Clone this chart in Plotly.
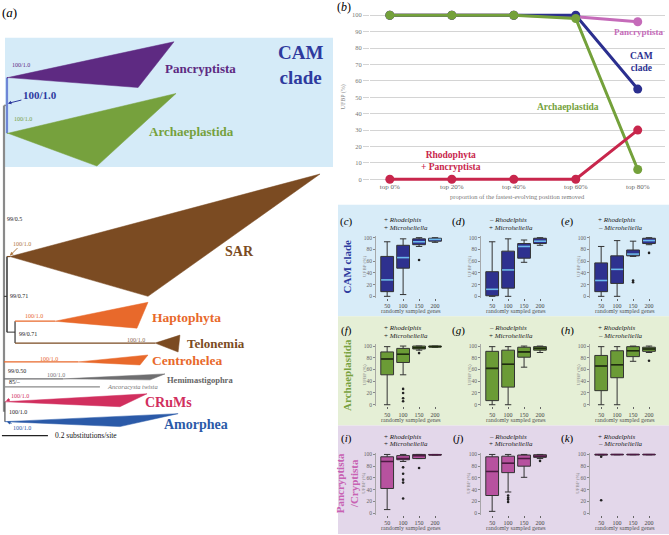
import plotly.graph_objects as go

W, H = 669, 535
SERIF = "Liberation Serif"

# ---------------- data: panel (b) ----------------
removed = ['top 0%', 'top 20%', 'top 40%', 'top 60%', 'top 80%']
ufbp_pancryptista = [100, 100, 100, 99, 96]
ufbp_cam = [100, 100, 100, 100, 55]
ufbp_archaeplastida = [100, 100, 100, 98, 6]
ufbp_rhodo_pancry = [0, 0, 0, 0, 30]

# ---------------- data: box plots (c)-(k) ----------------
genes = [50, 100, 150, 200]
# lower whisker, q1, median, q3, upper whisker per gene-set size
c_lo = [0, 3, 85, 92];   c_q1 = [8, 48, 88, 94];   c_med = [28, 66, 93, 97];  c_q3 = [68, 87, 98, 99];  c_hi = [93, 98, 100, 100]
c_out_x = [150];         c_out_y = [62]
d_lo = [0, 0, 58, 87];   d_q1 = [1, 14, 65, 90];   d_med = [12, 45, 85, 94];  d_q3 = [42, 77, 90, 99];  d_hi = [93, 98, 96, 100]
d_out_x = [];            d_out_y = []
e_lo = [0, 0, 68, 88];   e_q1 = [8, 22, 69, 90];   e_med = [27, 46, 72, 95];  e_q3 = [57, 69, 79, 99];  e_hi = [85, 95, 94, 100]
e_out_x = [150, 150, 200]; e_out_y = [27, 24, 74]
f_lo = [0, 51, 93, 98];  f_q1 = [51, 72, 95, 98.5]; f_med = [78, 86, 97, 99]; f_q3 = [90, 96, 100, 100]; f_hi = [99, 100, 100, 100]
f_out_x = [100, 100, 100, 100, 150]; f_out_y = [27, 20, 11, 6, 88]
g_lo = [0, 0, 64, 89];   g_q1 = [7, 30, 81, 93];   g_med = [62, 69, 90, 96];  g_q3 = [91, 93, 98, 99];  g_hi = [99, 99, 100, 100]
g_out_x = [];            g_out_y = []
h_lo = [0, 0, 74, 89];   h_q1 = [24, 46, 82, 91];  h_med = [66, 68, 92, 95];  h_q3 = [84, 92, 99, 98];  h_hi = [99, 99, 100, 100]
h_out_x = [200];         h_out_y = [75]
i_lo = [6, 88, 93, 99];  i_q1 = [42, 91, 93, 99];  i_med = [88, 93, 98, 99.5]; i_q3 = [96, 98, 100, 100]; i_hi = [100, 100, 100, 100]
i_out_x = [100, 100, 100, 100, 100, 150]; i_out_y = [78, 67, 57, 52, 25, 77]
j_lo = [3, 36, 61, 93];  j_q1 = [30, 69, 80, 95];  j_med = [71, 85, 93, 97];  j_q3 = [96, 97, 99, 99.5]; j_hi = [100, 100, 100, 100]
j_out_x = [100, 100, 100, 100, 200]; j_out_y = [30, 26, 23, 19, 89]
k_lo = [99, 100, 100, 100]; k_q1 = [99, 99.4, 99.4, 99.4]; k_med = [100, 100, 100, 100]; k_q3 = [100, 100, 100, 100]; k_hi = [100, 100, 100, 100]
k_out_x = [50, 50];      k_out_y = [96, 22]

panel_letters = ['c', 'd', 'e', 'f', 'g', 'h', 'i', 'j', 'k']
panel_titles = [('+ ', 'Rhodelphis', '+ ', 'Microheliella'), ('– ', 'Rhodelphis', '+ ', 'Microheliella'),
                ('+ ', 'Rhodelphis', '– ', 'Microheliella')] * 3
row_names = ['CAM clade', 'Archaeplastida', 'Pancryptista<br>/Cryptista']

# ---------------- data: tree (a) (depth in substitutions/site, vertical in leaf rows) ----------------
clade_names = ['Pancryptista', 'Archaeplastida', 'SAR', 'Haptophyta', 'Telonemia', 'Centrohelea',
               'Hemimastigophra', 'CRuMs', 'Amorphea']
clade_stem_from = [0.013, 0.013, 0.013, 0.048, 0.048, 0.0, 0.0, 0.004, 0.004]
clade_apex_depth = [0.017, 0.017, 0.026, 0.222, 0.657, 0.322, 0.257, 0.004, 0.004]
clade_apex_row = [77, 133, 257, 322, 344, 363, 380, 403, 423]
clade_top_depth = [0.739, 0.748, 1.374, 0.626, 0.765, 0.626, 0.700, 0.622, 0.757]
clade_top_row = [41, 93, 174, 303, 336, 356, 375, 395, 415]
clade_bot_depth = [0.583, 0.404, 0.626, 0.578, 0.757, 0.591, 0.635, 0.504, 0.504]
clade_bot_row = [87, 166, 297, 329, 353, 366, 381, 408, 428]
ancoracysta_depth = 0.417
ancoracysta_row = 388

# ---------------- helpers ----------------
def fx(p):
    return p / W

def fy(p):
    return 1 - p / H

fig = go.Figure()
annotations = []
shapes = []
layout_axes = {}

def ann(text, x, y, size, color='#000', xanchor='center', yanchor='middle', angle=0,
        xref='paper', yref='paper'):
    if xref == 'paper':
        x = fx(x)
    if yref == 'paper':
        y = fy(y)
    annotations.append(dict(text=text, x=x, y=y, xref=xref, yref=yref, showarrow=False,
                            font=dict(family=SERIF, size=size, color=color),
                            xanchor=xanchor, yanchor=yanchor, textangle=angle))

def rect(x0, y0, x1, y1, color):
    shapes.append(dict(type='rect', xref='paper', yref='paper', x0=fx(x0), x1=fx(x1),
                       y0=fy(y1), y1=fy(y0), fillcolor=color, line=dict(width=0), layer='below'))

# backgrounds
rect(5, 37, 333, 167, '#d5ebf8')
rect(338, 205, 669, 317, '#d8ecf8')
rect(338, 317, 669, 427, '#e5efd6')
rect(338, 427, 669, 536, '#e3d7ea')

# ---------------- panel (b) ----------------
b_colors = ['#c56bb9', '#2b2f8f', '#74a13b', '#c8264c']
for vals, col in zip([ufbp_pancryptista, ufbp_cam, ufbp_archaeplastida, ufbp_rhodo_pancry], b_colors):
    fig.add_trace(go.Scatter(x=removed, y=vals, mode='lines+markers', cliponaxis=False,
                             line=dict(color=col, width=3), marker=dict(color=col, size=9),
                             xaxis='x', yaxis='y', hoverinfo='skip'))
b_y100, b_y0 = 14.3, 179.3
b_unit = (b_y0 - b_y100) / 100
layout_axes['xaxis'] = dict(domain=[fx(370), fx(665)], range=[-0.32, 4.44], type='category',
                            showgrid=False, zeroline=False, showline=False, ticks='',
                            tickfont=dict(family=SERIF, size=7, color='#666'), anchor='y')
layout_axes['yaxis'] = dict(domain=[fy(b_y0 + 1 * b_unit), fy(b_y100 - 3 * b_unit)], range=[-1, 103],
                            tickvals=list(range(0, 101, 10)), showgrid=True, gridcolor='#d4d4d4',
                            gridwidth=1, zeroline=False, showline=False, ticks='outside', ticklen=6,
                            tickcolor='#d4d4d4', tickfont=dict(family=SERIF, size=6.5, color='#777'),
                            anchor='x')
ann('(<i>b</i>)', 344, 6, 12)
ann('UFBP (%)', 343, 97, 6, '#888', angle=-90)
ann('proportion of the fastest-evolving position removed', 517, 197, 6.5, '#777')
ann('<b>Pancryptista</b>', 638, 31, 9, '#c56bb9')
ann('<b>CAM<br>clade</b>', 641, 61, 9.5, '#2b2f8f')
ann('<b>Archaeplastida</b>', 568, 107, 9.5, '#74a13b')
ann('<b>Rhodophyta<br>+ Pancryptista</b>', 451, 161, 9.5, '#c8264c')

# ---------------- box panels ----------------
stats = {
    'c': (c_lo, c_q1, c_med, c_q3, c_hi, c_out_x, c_out_y),
    'd': (d_lo, d_q1, d_med, d_q3, d_hi, d_out_x, d_out_y),
    'e': (e_lo, e_q1, e_med, e_q3, e_hi, e_out_x, e_out_y),
    'f': (f_lo, f_q1, f_med, f_q3, f_hi, f_out_x, f_out_y),
    'g': (g_lo, g_q1, g_med, g_q3, g_hi, g_out_x, g_out_y),
    'h': (h_lo, h_q1, h_med, h_q3, h_hi, h_out_x, h_out_y),
    'i': (i_lo, i_q1, i_med, i_q3, i_hi, i_out_x, i_out_y),
    'j': (j_lo, j_q1, j_med, j_q3, j_hi, j_out_x, j_out_y),
    'k': (k_lo, k_q1, k_med, k_q3, k_hi, k_out_x, k_out_y),
}
row_fill = ['#2e318f', '#6b9b36', '#b7529f']
row_median = ['#6cb9ee', '#1f2d0e', '#4d1a43']
row_label_color = ['#2d3a9e', '#78a13e', '#c862b3']
col_axis_x = [376, 481, 590]
col_label_x = [346, 458, 567]
BOX_W = 40
x_range = [15, 225]
x_unit = (443 - 376) / (x_range[1] - x_range[0])

for idx, letter in enumerate(panel_letters):
    r, cidx = divmod(idx, 3)
    n = idx + 2
    xa, ya = 'x%d' % n, 'y%d' % n
    lo, q1, med, q3, hi, ox, oy = stats[letter]
    fig.add_trace(go.Box(x=genes, q1=q1, median=med, q3=q3, lowerfence=lo, upperfence=hi,
                         width=BOX_W, whiskerwidth=0.5, fillcolor=row_fill[r],
                         line=dict(color='#333', width=1), boxpoints=False,
                         xaxis=xa, yaxis=ya, hoverinfo='skip'))
    mx, my = [], []
    for g, m in zip(genes, med):
        mx += [g - BOX_W / 2 + 1, g + BOX_W / 2 - 1, None]
        my += [m, m, None]
    fig.add_trace(go.Scatter(x=mx, y=my, mode='lines', line=dict(color=row_median[r], width=1.6),
                             xaxis=xa, yaxis=ya, hoverinfo='skip', cliponaxis=False))
    if ox:
        fig.add_trace(go.Scatter(x=ox, y=oy, mode='markers', marker=dict(color='#222', size=2.6),
                                 xaxis=xa, yaxis=ya, hoverinfo='skip', cliponaxis=False))
    y100 = 238 + 109 * r
    y0 = 297 + 109 * r
    unit = (y0 - y100) / 100
    ax0 = col_axis_x[cidx]
    ax1 = ax0 + (x_range[1] - x_range[0]) * x_unit
    layout_axes['xaxis%d' % n] = dict(domain=[fx(ax0), fx(ax1)], range=x_range, anchor=ya,
                                      tickvals=genes, ticks='outside', ticklen=2, tickcolor='#666',
                                      showline=False, showgrid=False, zeroline=False,
                                      tickfont=dict(family=SERIF, size=6, color='#444'))
    layout_axes['yaxis%d' % n] = dict(domain=[fy(y0 + 3 * unit), fy(y100 - 3 * unit)], range=[-3, 103],
                                      anchor=xa, tickvals=[0, 20, 40, 60, 80, 100], ticks='outside',
                                      ticklen=2, tickcolor='#888', showline=True, linecolor='#999',
                                      linewidth=0.8, showgrid=False, zeroline=False,
                                      tickfont=dict(family=SERIF, size=5.5, color='#666'))
    ann('(<i>%s</i>)' % letter, col_label_x[cidx], y100 - 16, 11)
    t = panel_titles[idx]
    ann('%s<i>%s</i>' % (t[0], t[1]), ax0 + 6, y100 - 18, 7, '#222', xanchor='left')
    ann('%s<i>%s</i>' % (t[2], t[3]), ax0 + 6, y100 - 10, 7, '#222', xanchor='left')
    ann('UFBP (%)', ax0 - 12, (y0 + y100) / 2, 5, '#888', angle=-90)
    ann('randomly sampled genes', ax0 + (125 - x_range[0]) * x_unit, y0 + 15, 6, '#555')

for r in range(3):
    ann('<b>%s</b>' % row_names[r], 347, 267 + 109 * r, 11, row_label_color[r], angle=-90)

# ---------------- panel (a): tree ----------------
clade_colors = ['#5e2a82', '#76a13d', '#7b4b22', '#e8692b', '#7b4b22', '#e8692b', '#6e6e70', '#d12f5e', '#2b5aa8']
XT = 'x11'; YT = 'y11'
def tline(xs, ys, color, width=1.2):
    fig.add_trace(go.Scatter(x=xs, y=ys, mode='lines', line=dict(color=color, width=width),
                             xaxis=XT, yaxis=YT, hoverinfo='skip'))

# backbone
tline([0, 0], [105, 413], '#8a8a8a', 2.2)
tline([0, 0.013], [105, 105], '#8a8a8a', 1.5)
tline([0.013, 0.013], [77, 133], '#6f86d6', 2.2)
tline([0, 0.013], [297, 297], '#333', 1)
tline([0.013, 0.013], [257, 333], '#333', 1.5)
tline([0.013, 0.048], [333, 333], '#333', 1)
tline([0.048, 0.048], [322, 344], '#333', 1.2)
tline([0.004, 0.004], [403, 423], '#555', 1.2)
tline([0, ancoracysta_depth], [ancoracysta_row, ancoracysta_row], '#8a8a8a', 1.2)

for i, name in enumerate(clade_names):
    col = clade_colors[i]
    tline([clade_stem_from[i], clade_apex_depth[i]], [clade_apex_row[i]] * 2, col, 1.2)
    fig.add_trace(go.Scatter(x=[clade_apex_depth[i], clade_top_depth[i], clade_bot_depth[i], clade_apex_depth[i]],
                             y=[clade_apex_row[i], clade_top_row[i], clade_bot_row[i], clade_apex_row[i]],
                             mode='lines', fill='toself', fillcolor=col, line=dict(color=col, width=0.5),
                             xaxis=XT, yaxis=YT, hoverinfo='skip'))

# scale bar
tline([-0.009, 0.191], [437, 437], '#222', 1.2)

layout_axes['xaxis11'] = dict(domain=[0, fx(338)], range=[-4 / 230, 334 / 230], visible=False, anchor='y11')
layout_axes['yaxis11'] = dict(domain=[0, 1], range=[535, 0], visible=False, anchor='x11')

label_size = [13, 13, 14, 13.5, 13, 13.5, 8.5, 14, 14]
label_left = [0.691, 0.622, 0.952, 0.635, 0.787, 0.635, 0.700, 0.604, 0.687]
label_row = [68, 131, 252, 318, 344, 362, 381, 404, 426]
label_color = ['#5e2a82', '#76a13d', '#7b4b22', '#e8692b', '#7b4b22', '#e8692b', '#666', '#d12f5e', '#2b5aa8']
for i, name in enumerate(clade_names):
    ann('<b>%s</b>' % name, label_left[i], label_row[i], label_size[i], label_color[i],
        xanchor='left', xref=XT, yref=YT)
ann('<i>Ancoracysta twista</i>', 0.439, ancoracysta_row, 6.5, '#777', xanchor='left', xref=XT, yref=YT)
ann('0.2 substitutions/site', 0.213, 437, 7.5, '#111', xanchor='left', xref=XT, yref=YT)
ann('<b>CAM<br>clade</b>', 300, 64, 19, '#2e3a9e')
ann('(<i>a</i>)', 9, 12, 13)

# support values
sup_text = ['100/1.0', '100/1.0', '99/0.5', '99/0.71', '100/1.0', '99/0.71', '100/1.0', '100/1.0',
            '99/0.50', '100/1.0', '85/–', '100/1.0']
sup_left = [0.026, 0.035, 0.004, 0.017, 0.083, 0.057, 0.526, 0.148, 0.009, 0.178, 0.013, 0.013]
sup_row = [64, 119, 219, 297, 317, 335, 341, 360, 372, 376, 383, 413]
sup_color = ['#5e2a82', '#76a13d', '#222', '#222', '#e8692b', '#222', '#8a6a50', '#e8692b', '#222',
             '#777', '#222', '#222']
for t, xl, yr, cl in zip(sup_text, sup_left, sup_row, sup_color):
    ann(t, xl, yr, 6, cl, xanchor='left', xref=XT, yref=YT)

# arrowed supports
arrow_text = ['<b>100/1.0</b>', '100/1.0', '100/1.0', '100/1.0']
arrow_target_depth = [0.017, 0.026, 0.009, 0.013]
arrow_target_row = [103, 256, 402, 423]
arrow_off = [(32, -8), (12, -12), (14, -5), (15, 6)]
arrow_color = ['#2e3a9e', '#b07840', '#d12f5e', '#2b5aa8']
arrow_size = [11, 6, 6, 6]
for t, xd, yr, (dx, dy), cl, sz in zip(arrow_text, arrow_target_depth, arrow_target_row, arrow_off,
                                        arrow_color, arrow_size):
    annotations.append(dict(text=t, x=xd, y=yr, xref=XT, yref=YT, showarrow=True, ax=dx, ay=dy,
                            arrowhead=2, arrowsize=0.7, arrowwidth=1, arrowcolor=cl,
                            font=dict(family=SERIF, size=sz, color=cl)))

fig.update_layout(width=W, height=H, margin=dict(l=0, r=0, t=0, b=0), showlegend=False,
                  paper_bgcolor='white', plot_bgcolor='rgba(0,0,0,0)',
                  annotations=annotations, shapes=shapes, **layout_axes)
fig.write_html('out.html', config={'displayModeBar': False, 'staticPlot': True},
               post_script="document.body.style.margin='0';document.body.style.overflow='hidden';")
